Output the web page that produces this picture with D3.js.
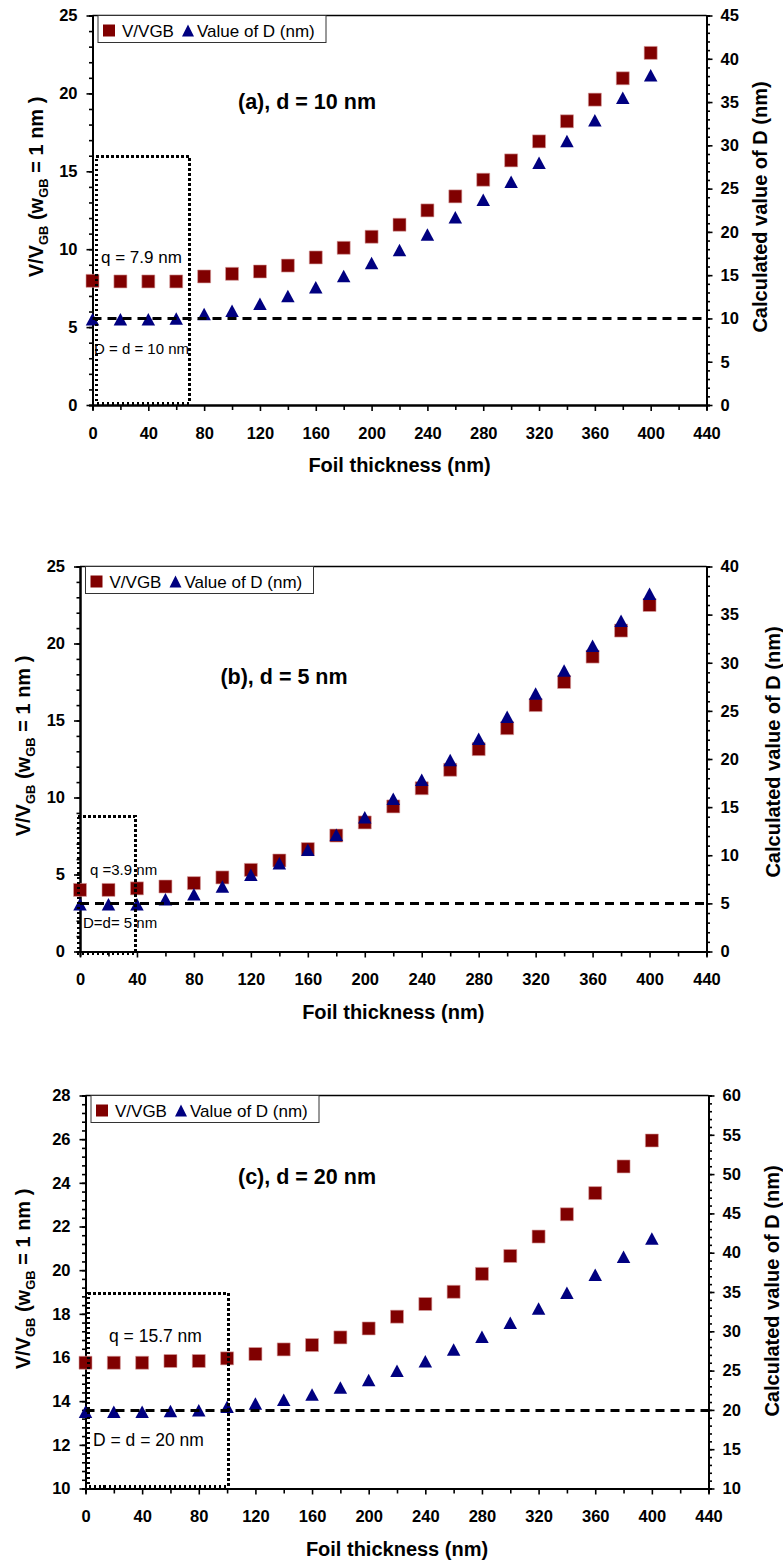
<!DOCTYPE html>
<html>
<head>
<meta charset="utf-8">
<script src="https://cdn.jsdelivr.net/npm/d3@7"></script>
<style>
body { margin: 0; background: #fff; }
svg { display: block; }
text { font-family: Arial, "Liberation Sans", sans-serif; }
</style>
</head>
<body>
<script>
// foil thickness (nm), same for all three panels
var thickness = [0, 20, 40, 60, 80, 100, 120, 140, 160, 180, 200,
                 220, 240, 260, 280, 300, 320, 340, 360, 380, 400];

// (a) d = 10 nm
var ratioA = [7.97, 7.93, 7.93, 7.93, 8.25, 8.42, 8.57, 8.95, 9.47, 10.09, 10.8,
              11.57, 12.49, 13.39, 14.46, 15.7, 16.92, 18.21, 19.6, 20.97, 22.6];
var dValA = [9.9, 9.9, 9.9, 10.0, 10.5, 10.9, 11.7, 12.6, 13.6, 14.9, 16.4,
             17.9, 19.7, 21.7, 23.7, 25.8, 28.0, 30.5, 32.9, 35.5, 38.1];

// (b) d = 5 nm
var ratioB = [4.0, 4.0, 4.1, 4.22, 4.44, 4.81, 5.3, 5.91, 6.65, 7.53, 8.38,
              9.42, 10.6, 11.8, 13.14, 14.5, 16.0, 17.5, 19.15, 20.84, 22.5];
var dValB = [4.9, 4.9, 4.9, 5.44, 5.96, 6.75, 7.97, 9.18, 10.56, 12.12, 13.96,
             15.86, 17.84, 19.9, 22.1, 24.4, 26.8, 29.2, 31.76, 34.36, 37.16];

// (c) d = 20 nm
var ratioC = [15.76, 15.76, 15.76, 15.84, 15.84, 15.96, 16.16, 16.37, 16.57, 16.92, 17.33,
              17.87, 18.45, 19.01, 19.83, 20.65, 21.54, 22.56, 23.53, 24.75, 25.94];
var dValC = [19.76, 19.76, 19.76, 19.85, 19.97, 20.4, 20.8, 21.3, 21.97, 22.86, 23.8,
             24.98, 26.2, 27.7, 29.3, 31.1, 32.9, 34.9, 37.2, 39.5, 41.8];

var xTicks = [0, 40, 80, 120, 160, 200, 240, 280, 320, 360, 400, 440];
var legendLabels = ["V/VGB", "Value of D (nm)"];
var xTitle = "Foil thickness (nm)";
var rightTitle = "Calculated value of D (nm)";

var sqColor = "#800000", triColor = "#000080";

var svg = d3.select("body").append("svg")
    .attr("width", 783)
    .attr("height", 1562);

var panels = [
  {ratio: ratioA, dval: dValA, d: 10, title: "(a), d = 10 nm",
   left: 92.5, right: 706.5, top: 15.5, bottom: 405,
   yL: [0, 25], yLmaj: 5, yLmin: 1, yR: [0, 45], yRmaj: 5, yRmin: 1,
   box: [2.3, 69.5, 0.13, 16], qText: "q = 7.9 nm", dText: "D = d = 10 nm",
   qPos: [101, 263, 17], dPos: [94, 354, 15],
   titlePos: [307, 109], lTitle: [36, 187], rTitle: [760, 207]},
  {ratio: ratioB, dval: dValB, d: 5, title: "(b), d = 5 nm",
   left: 80, right: 706.5, top: 566.5, bottom: 951.5,
   yL: [0, 25], yLmaj: 5, yLmin: 1, yR: [0, 40], yRmaj: 5, yRmin: 1,
   box: [-1.2, 38.6, -0.08, 8.8], qText: "q =3.9 nm", dText: "D=d= 5 nm",
   qPos: [90, 875, 15], dPos: [83, 928, 15],
   titlePos: [284, 684], lTitle: [23, 746], rTitle: [773, 752]},
  {ratio: ratioC, dval: dValC, d: 20, title: "(c), d = 20 nm",
   left: 85.5, right: 708.5, top: 1095.5, bottom: 1488.5,
   yL: [10, 28], yLmaj: 2, yLmin: 0.4, yR: [10, 60], yRmaj: 5, yRmin: 1,
   box: [1.8, 100.8, 10.12, 18.94], qText: "q = 15.7 nm", dText: "D = d = 20 nm",
   qPos: [109, 1342, 17.5], dPos: [93, 1446, 17.5],
   titlePos: [307, 1184], lTitle: [23, 1279], rTitle: [772, 1291]}
];

function squarePath(s) {
  var h = s / 2;
  return "M" + -h + "," + -h + "H" + h + "V" + h + "H" + -h + "Z";
}
function triPath(w, h) {
  return "M0," + (-h / 2) + "L" + (w / 2) + "," + (h / 2) + "L" + (-w / 2) + "," + (h / 2) + "Z";
}

function styleAxis(g) {
  g.selectAll("path.domain").attr("stroke", "#000").attr("stroke-width", 2);
  g.selectAll(".tick line").attr("stroke", "#000").attr("stroke-width", 1.6);
  g.selectAll(".tick text")
      .attr("font-family", "Arial, 'Liberation Sans', sans-serif")
      .attr("font-size", 16.5)
      .attr("font-weight", "bold")
      .attr("fill", "#000");
}

panels.forEach(function(p) {
  var x = d3.scaleLinear().domain([0, 440]).range([p.left, p.right]);
  var yL = d3.scaleLinear().domain(p.yL).range([p.bottom, p.top]);
  var yR = d3.scaleLinear().domain(p.yR).range([p.bottom, p.top]);

  var g = svg.append("g");

  // top frame line
  g.append("line")
      .attr("x1", p.left).attr("x2", p.right)
      .attr("y1", p.top).attr("y2", p.top)
      .attr("stroke", "#000").attr("stroke-width", 1.5);

  // minor ticks
  var xMinor = d3.range(20, 440, 40);
  g.append("g")
      .attr("transform", "translate(0," + p.bottom + ")")
      .call(d3.axisBottom(x).tickValues(xMinor).tickSize(5).tickFormat(""))
      .call(styleAxis);
  var lMinor = d3.range(p.yL[0], p.yL[1] + 1e-6, p.yLmin);
  g.append("g")
      .attr("transform", "translate(" + p.left + ",0)")
      .call(d3.axisLeft(yL).tickValues(lMinor).tickSize(3.5).tickFormat(""))
      .call(styleAxis);
  var rMinor = d3.range(p.yR[0], p.yR[1] + 1e-6, p.yRmin);
  g.append("g")
      .attr("transform", "translate(" + p.right + ",0)")
      .call(d3.axisRight(yR).tickValues(rMinor).tickSize(3.5).tickFormat(""))
      .call(styleAxis);

  // major axes
  g.append("g")
      .attr("transform", "translate(0," + p.bottom + ")")
      .call(d3.axisBottom(x).tickValues(xTicks).tickSize(6).tickSizeOuter(0).tickPadding(16))
      .call(styleAxis);
  g.append("g")
      .attr("transform", "translate(" + p.left + ",0)")
      .call(d3.axisLeft(yL).tickValues(d3.range(p.yL[0], p.yL[1] + 1e-6, p.yLmaj))
          .tickSize(6).tickSizeOuter(0).tickPadding(9))
      .call(styleAxis);
  g.append("g")
      .attr("transform", "translate(" + p.right + ",0)")
      .call(d3.axisRight(yR).tickValues(d3.range(p.yR[0], p.yR[1] + 1e-6, p.yRmaj))
          .tickSize(6).tickSizeOuter(0).tickPadding(8))
      .call(styleAxis);

  // markers
  g.append("g").selectAll("path")
      .data(thickness)
      .enter().append("path")
      .attr("d", squarePath(13))
      .attr("transform", function(t, i) { return "translate(" + x(t) + "," + yL(p.ratio[i]) + ")"; })
      .attr("fill", sqColor)
      .attr("stroke", "#d9a0a0").attr("stroke-width", 0.6);
  g.append("g").selectAll("path")
      .data(thickness)
      .enter().append("path")
      .attr("d", triPath(13.5, 12.5))
      .attr("transform", function(t, i) { return "translate(" + x(t) + "," + yR(p.dval[i]) + ")"; })
      .attr("fill", triColor);

  // D = d reference line
  var yd = Math.round(yR(p.d)) + 0.5;
  g.append("line")
      .attr("x1", p.left).attr("x2", p.right)
      .attr("y1", yd).attr("y2", yd)
      .attr("stroke", "#000").attr("stroke-width", 3.2)
      .attr("stroke-dasharray", "9,6");

  // dotted box
  var bx0 = Math.round(x(p.box[0])), bx1 = Math.round(x(p.box[1])),
      by0 = Math.round(yL(p.box[3])), by1 = Math.round(yL(p.box[2]));
  g.append("rect")
      .attr("x", bx0).attr("y", by0)
      .attr("width", bx1 - bx0)
      .attr("height", by1 - by0)
      .attr("fill", "none")
      .attr("stroke", "#000").attr("stroke-width", 3)
      .attr("stroke-dasharray", "2.5,2.5")
      .attr("shape-rendering", "crispEdges");

  g.append("text")
      .attr("x", p.qPos[0]).attr("y", p.qPos[1])
      .attr("font-size", p.qPos[2])
      .text(p.qText);
  g.append("text")
      .attr("x", p.dPos[0]).attr("y", p.dPos[1])
      .attr("font-size", p.dPos[2])
      .text(p.dText);

  // panel title
  g.append("text")
      .attr("x", p.titlePos[0]).attr("y", p.titlePos[1])
      .attr("text-anchor", "middle")
      .attr("font-size", 21.5).attr("font-weight", "bold")
      .text(p.title);

  // legend
  var lg = g.append("g").attr("transform", "translate(" + (p.left + 5.5) + "," + p.top + ")");
  lg.append("rect")
      .attr("width", 228).attr("height", 27)
      .attr("fill", "#fff").attr("stroke", "#333").attr("stroke-width", 1);
  lg.append("path").attr("d", squarePath(12)).attr("transform", "translate(11,15)").attr("fill", sqColor);
  lg.append("text").attr("x", 24).attr("y", 21).attr("font-size", 17).text(legendLabels[0]);
  lg.append("path").attr("d", triPath(12, 12)).attr("transform", "translate(90,15)").attr("fill", triColor);
  lg.append("text").attr("x", 99).attr("y", 21).attr("font-size", 17).text(legendLabels[1]);

  // axis titles
  g.append("text")
      .attr("x", (p.left + p.right) / 2).attr("y", p.bottom + 67)
      .attr("text-anchor", "middle")
      .attr("font-size", 20).attr("font-weight", "bold")
      .text(xTitle);

  g.append("text")
      .attr("transform", "translate(" + p.rTitle[0] + "," + p.rTitle[1] + ") rotate(-90)")
      .attr("text-anchor", "middle").attr("dy", "0.35em")
      .attr("font-size", 20).attr("font-weight", "bold")
      .text(rightTitle);

  var lt = g.append("text")
      .attr("transform", "translate(" + p.lTitle[0] + "," + p.lTitle[1] + ") rotate(-90)")
      .attr("text-anchor", "middle").attr("dy", "0.35em")
      .attr("font-size", 20).attr("font-weight", "bold");
  lt.append("tspan").text("V/V");
  lt.append("tspan").attr("font-size", 13).attr("dy", 5).text("GB");
  lt.append("tspan").attr("dy", -5).text(" (w");
  lt.append("tspan").attr("font-size", 13).attr("dy", 5).text("GB");
  lt.append("tspan").attr("dy", -5).text(" = 1 nm )");
});
</script>
</body>
</html>
